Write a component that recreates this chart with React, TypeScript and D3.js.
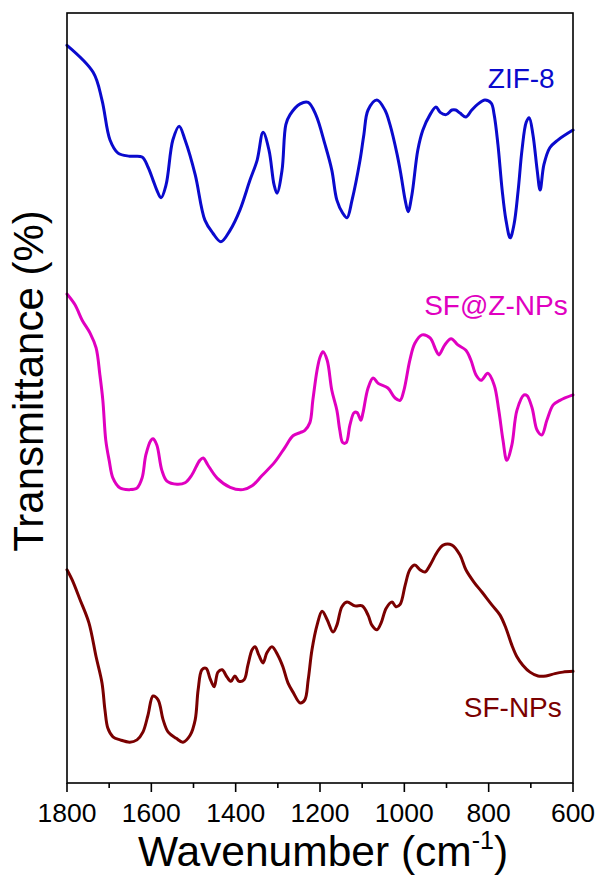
import React from 'react';
import * as d3 from 'd3';

// wavenumber (cm-1), transmittance in arbitrary offset units (0-100)
const zifWn = [1800, 1738, 1717, 1698, 1679, 1651, 1622, 1608, 1596, 1587, 1577, 1565, 1549, 1534, 1520, 1496, 1473, 1454, 1435, 1413, 1390, 1366, 1349, 1335, 1321, 1309, 1302, 1290, 1281, 1271, 1247, 1228, 1210, 1188, 1172, 1160, 1146, 1136, 1124, 1105, 1096, 1086, 1065, 1046, 1034, 1017, 1008, 998, 991, 982, 968, 956, 939, 925, 915, 901, 887, 878, 868, 854, 840, 825, 809, 794, 787, 778, 768, 759, 749, 740, 730, 721, 711, 704, 695, 685, 678, 669, 655, 636, 600];
const zifT = [95.8, 92.3, 88.7, 83.5, 81.8, 81.4, 81.3, 80.0, 78.3, 77.0, 76.0, 77.7, 83.5, 85.3, 83.5, 79.0, 73.1, 71.4, 70.3, 71.8, 74.4, 78.3, 80.9, 84.5, 82.2, 77.7, 76.6, 79.6, 85.5, 86.8, 88.2, 88.4, 86.8, 82.9, 79.6, 75.7, 74.0, 73.4, 75.7, 80.9, 84.2, 87.4, 88.7, 87.4, 85.5, 81.6, 79.0, 75.7, 74.2, 76.4, 82.2, 84.8, 86.8, 87.8, 87.1, 86.8, 87.4, 87.4, 87.0, 86.5, 87.4, 88.2, 88.7, 88.3, 86.8, 82.9, 77.0, 73.1, 70.8, 72.5, 77.0, 82.2, 85.8, 86.4, 84.2, 79.6, 77.0, 80.3, 82.5, 83.5, 84.8];

const sfzWn = [1800, 1781, 1764, 1745, 1731, 1722, 1715, 1708, 1700, 1691, 1674, 1651, 1634, 1622, 1613, 1601, 1596, 1587, 1575, 1563, 1539, 1520, 1504, 1485, 1477, 1466, 1444, 1413, 1383, 1361, 1338, 1307, 1283, 1264, 1247, 1236, 1224, 1217, 1207, 1200, 1193, 1183, 1172, 1160, 1153, 1146, 1138, 1129, 1119, 1112, 1103, 1098, 1086, 1074, 1062, 1039, 1022, 1010, 1001, 987, 975, 958, 939, 925, 918, 904, 889, 873, 854, 842, 830, 818, 802, 787, 776, 766, 757, 745, 733, 716, 709, 697, 685, 674, 662, 647, 631, 600];
const sfzT = [63.5, 62.1, 60.1, 58.4, 56.5, 53.0, 49.7, 44.5, 41.9, 39.6, 38.3, 38.1, 38.3, 39.6, 42.6, 44.5, 44.7, 43.9, 40.6, 39.2, 38.8, 39.0, 40.0, 41.9, 42.2, 41.3, 39.6, 38.4, 38.1, 38.6, 39.9, 41.7, 43.6, 45.1, 45.5, 45.8, 46.8, 49.7, 53.6, 55.3, 56.0, 54.9, 51.0, 48.4, 45.8, 44.2, 44.2, 46.5, 48.1, 48.1, 47.1, 48.1, 51.3, 52.6, 51.9, 51.3, 50.0, 49.7, 51.0, 54.9, 57.1, 58.2, 57.8, 56.2, 55.6, 56.9, 57.7, 56.9, 56.2, 54.9, 53.0, 52.3, 53.2, 51.7, 48.4, 44.5, 41.9, 43.9, 48.4, 50.4, 50.3, 48.7, 45.8, 45.2, 47.1, 49.1, 49.7, 50.4];

const sfWn = [1800, 1788, 1769, 1748, 1731, 1717, 1710, 1703, 1691, 1674, 1651, 1634, 1620, 1608, 1596, 1584, 1572, 1560, 1541, 1525, 1508, 1496, 1489, 1480, 1470, 1461, 1451, 1442, 1432, 1421, 1411, 1402, 1392, 1380, 1371, 1361, 1354, 1345, 1335, 1326, 1314, 1300, 1288, 1276, 1264, 1247, 1236, 1228, 1219, 1207, 1195, 1183, 1169, 1160, 1148, 1136, 1117, 1100, 1086, 1077, 1065, 1055, 1043, 1029, 1020, 1010, 998, 987, 975, 963, 951, 939, 922, 908, 887, 868, 854, 835, 816, 792, 773, 759, 745, 733, 719, 702, 683, 664, 643, 624, 600];
const sfT = [27.7, 26.4, 23.8, 20.8, 16.4, 13.0, 9.5, 7.1, 6.0, 5.6, 5.3, 5.6, 6.6, 8.8, 11.3, 10.8, 8.2, 6.6, 5.8, 5.3, 6.2, 8.2, 12.1, 14.7, 14.9, 13.6, 12.5, 14.4, 14.7, 13.8, 13.2, 13.9, 13.2, 13.4, 15.3, 17.3, 17.7, 16.6, 15.6, 16.9, 17.7, 16.6, 15.1, 13.0, 11.8, 10.4, 10.8, 13.4, 17.3, 20.5, 22.3, 21.2, 19.6, 20.5, 22.9, 23.5, 23.0, 23.0, 21.8, 20.5, 19.9, 20.8, 22.7, 23.5, 22.9, 23.2, 25.7, 27.7, 28.3, 27.7, 27.4, 28.3, 30.0, 30.9, 30.9, 29.6, 27.7, 26.1, 24.8, 23.1, 21.8, 20.1, 17.9, 16.4, 15.3, 14.4, 13.9, 13.9, 14.2, 14.4, 14.5];

const seriesNames = ['ZIF-8', 'SF@Z-NPs', 'SF-NPs'];
const seriesColors = ['#0a0acd', '#e000c0', '#7a0000'];
const labelWn = [802, 953, 859];
const labelT = [90.3, 60.8, 8.6];

const xTicks = [1800, 1600, 1400, 1200, 1000, 800, 600];
const xMinor = [1700, 1500, 1300, 1100, 900, 700];

const font = "Arial, 'Liberation Sans', sans-serif";

const App: React.FC = () => {
  const width = 599;
  const height = 882;
  const margin = { top: 13, right: 26, bottom: 99, left: 67 };

  const x = d3.scaleLinear().domain([1800, 600]).range([margin.left, width - margin.right]);
  const y = d3.scaleLinear().domain([0, 100]).range([height - margin.bottom, margin.top]);

  const line = d3.line<[number, number]>()
    .x(d => x(d[0]))
    .y(d => y(d[1]))
    .curve(d3.curveCatmullRom.alpha(0.5));

  const series = [
    d3.zip(zifWn, zifT) as [number, number][],
    d3.zip(sfzWn, sfzT) as [number, number][],
    d3.zip(sfWn, sfT) as [number, number][],
  ];

  const x0 = margin.left;
  const x1 = width - margin.right;
  const y0 = margin.top;
  const y1 = height - margin.bottom;

  return (
    <div style={{ position: 'absolute', left: 0, top: 0 }}>
      <svg width={width} height={height} style={{ display: 'block', background: '#fff' }}>
        {/* Curves */}
        {series.map((s, i) => (
          <path key={seriesNames[i]} d={line(s) || ''} fill="none"
            stroke={seriesColors[i]} strokeWidth={3} strokeLinejoin="round" strokeLinecap="round" />
        ))}

        {/* Series labels */}
        {seriesNames.map((n, i) => (
          <text key={n} x={x(labelWn[i])} y={y(labelT[i])} fill={seriesColors[i]}
            fontFamily={font} fontSize={28}>{n}</text>
        ))}

        {/* Frame */}
        <rect x={x0} y={y0} width={x1 - x0} height={y1 - y0} fill="none" stroke="#000" strokeWidth={1.6} />

        {/* Bottom ticks */}
        {xTicks.map(t => (
          <g key={t}>
            <line x1={x(t)} x2={x(t)} y1={y1} y2={y1 + 9} stroke="#000" strokeWidth={1.6} />
            <text x={x(t)} y={822} textAnchor="middle" fontFamily={font} fontSize={26.5} fill="#000">{t}</text>
          </g>
        ))}
        {xMinor.map(t => (
          <line key={t} x1={x(t)} x2={x(t)} y1={y1} y2={y1 + 5} stroke="#000" strokeWidth={1.6} />
        ))}

        {/* Axis titles */}
        <text x={323} y={866} textAnchor="middle" fontFamily={font} fontSize={42.5} fill="#000">
          Wavenumber (cm<tspan fontSize={25} dy={-17}>-1</tspan><tspan dy={17}>)</tspan>
        </text>
        <text transform="translate(43, 381) rotate(-90)" textAnchor="middle" fontFamily={font} fontSize={42} fill="#000">
          Transmittance (%)
        </text>
      </svg>
    </div>
  );
};

export default App;
